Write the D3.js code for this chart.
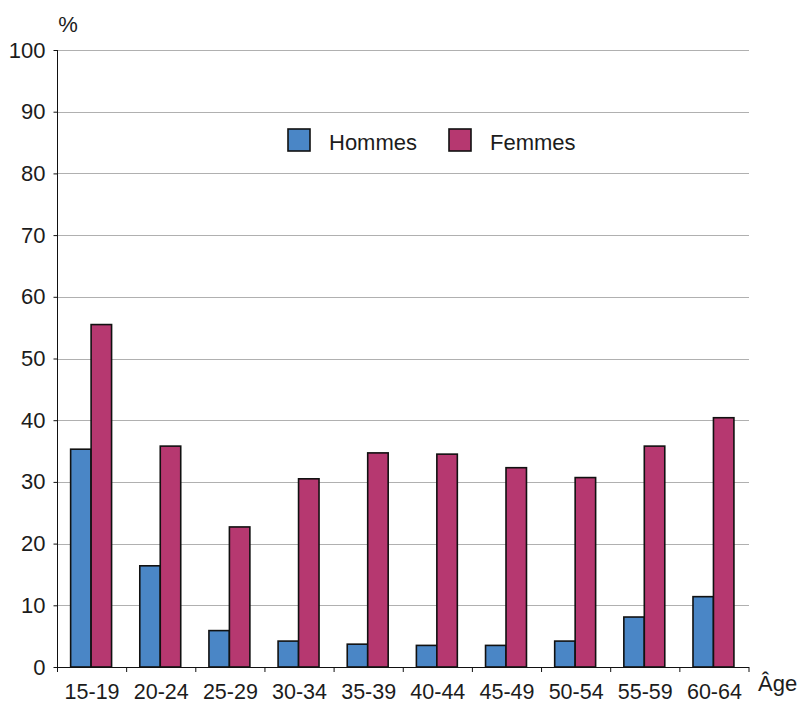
<!DOCTYPE html>
<html>
<head>
<meta charset="utf-8">
<script src="https://cdn.jsdelivr.net/npm/d3@7"></script>
<style>
  html, body { margin: 0; padding: 0; background: #fff; }
  svg { display: block; font-family: "Liberation Sans", Arial, Helvetica, sans-serif; }
</style>
</head>
<body>
<svg id="chart" width="802" height="704"></svg>
<script>
// Age groups and share (%) for each sex
const ageGroups = ["15-19", "20-24", "25-29", "30-34", "35-39", "40-44", "45-49", "50-54", "55-59", "60-64"];
const hommes = [35.3, 16.4, 5.9, 4.2, 3.7, 3.5, 3.5, 4.2, 8.1, 11.4];
const femmes = [55.5, 35.8, 22.7, 30.5, 34.7, 34.5, 32.3, 30.7, 35.8, 40.4];
const seriesNames = ["Hommes", "Femmes"];
const seriesColors = ["#4a86c6", "#b63870"];
const yTicks = [0, 10, 20, 30, 40, 50, 60, 70, 80, 90, 100];

const svg = d3.select("#chart");
const plotLeft = 57.5, plotRight = 749, plotTop = 50, plotBottom = 667;

const x = d3.scaleBand().domain(ageGroups).range([plotLeft, plotRight]).padding(0);
const xs = d3.scaleBand().domain(seriesNames)
  .range([x.bandwidth() * 0.19, x.bandwidth() * 0.782]).padding(0);
const y = d3.scaleLinear().domain([0, 100]).range([plotBottom, plotTop]);

// horizontal gridlines
svg.append("g")
  .selectAll("line")
  .data(yTicks.filter(d => d > 0))
  .join("line")
  .attr("x1", plotLeft).attr("x2", plotRight)
  .attr("y1", d => Math.round(y(d)) + 0.5).attr("y2", d => Math.round(y(d)) + 0.5)
  .attr("stroke", "#b0b0b0").attr("stroke-width", 1);

// bars
const rows = ageGroups.map((g, i) => ({ g, values: [hommes[i], femmes[i]] }));
const groups = svg.append("g")
  .selectAll("g")
  .data(rows)
  .join("g")
  .attr("transform", d => `translate(${x(d.g)},0)`);
groups.selectAll("rect")
  .data(d => d.values.map((v, k) => ({ name: seriesNames[k], v, k })))
  .join("rect")
  .attr("x", d => xs(d.name))
  .attr("width", xs.bandwidth())
  .attr("y", d => y(d.v))
  .attr("height", d => y(0) - y(d.v))
  .attr("fill", d => seriesColors[d.k])
  .attr("stroke", "#111")
  .attr("stroke-width", 1.6);

// y axis
const yAxis = svg.append("g")
  .attr("transform", `translate(${plotLeft},0)`)
  .call(d3.axisLeft(y).tickValues(yTicks).tickSize(4).tickPadding(8));
yAxis.select(".domain").attr("stroke", "#111").attr("d", `M0,${plotTop}V${plotBottom}`);
yAxis.selectAll(".tick line").attr("stroke", "#111");
yAxis.selectAll(".tick text")
  .attr("font-size", 22).attr("fill", "#1c1c1c")
  .attr("font-family", "'Liberation Sans', Arial, sans-serif");

// x axis: labels centred under groups, ticks at group boundaries
const xAxis = svg.append("g")
  .attr("transform", `translate(0,${plotBottom})`)
  .call(d3.axisBottom(x).tickSize(0).tickPadding(17));
xAxis.select(".domain").attr("stroke", "#111").attr("d", `M${plotLeft},0.5H${plotRight}`);
xAxis.selectAll(".tick text")
  .attr("font-size", 21.5).attr("fill", "#1c1c1c")
  .attr("font-family", "'Liberation Sans', Arial, sans-serif");
const boundaries = ageGroups.map(g => x(g)).concat([plotRight]);
svg.append("g")
  .selectAll("line")
  .data(boundaries)
  .join("line")
  .attr("x1", d => d).attr("x2", d => d)
  .attr("y1", plotBottom).attr("y2", plotBottom + 5)
  .attr("stroke", "#111").attr("stroke-width", 1);

// axis titles
svg.append("text").attr("x", 68).attr("y", 32).attr("text-anchor", "middle")
  .attr("font-size", 22).attr("fill", "#1c1c1c").text("%");
svg.append("text").attr("x", 758).attr("y", 691)
  .attr("font-size", 22).attr("fill", "#1c1c1c").text("Âge");

// legend
const legendX = [288, 449];
const legend = svg.append("g")
  .selectAll("g")
  .data(seriesNames)
  .join("g")
  .attr("transform", (d, i) => `translate(${legendX[i]},129)`);
legend.append("rect")
  .attr("width", 22).attr("height", 22)
  .attr("fill", (d, i) => seriesColors[i])
  .attr("stroke", "#111").attr("stroke-width", 1.6);
legend.append("text")
  .attr("x", 41).attr("y", 21)
  .attr("font-size", 22).attr("fill", "#1c1c1c")
  .text(d => d);
</script>
</body>
</html>
